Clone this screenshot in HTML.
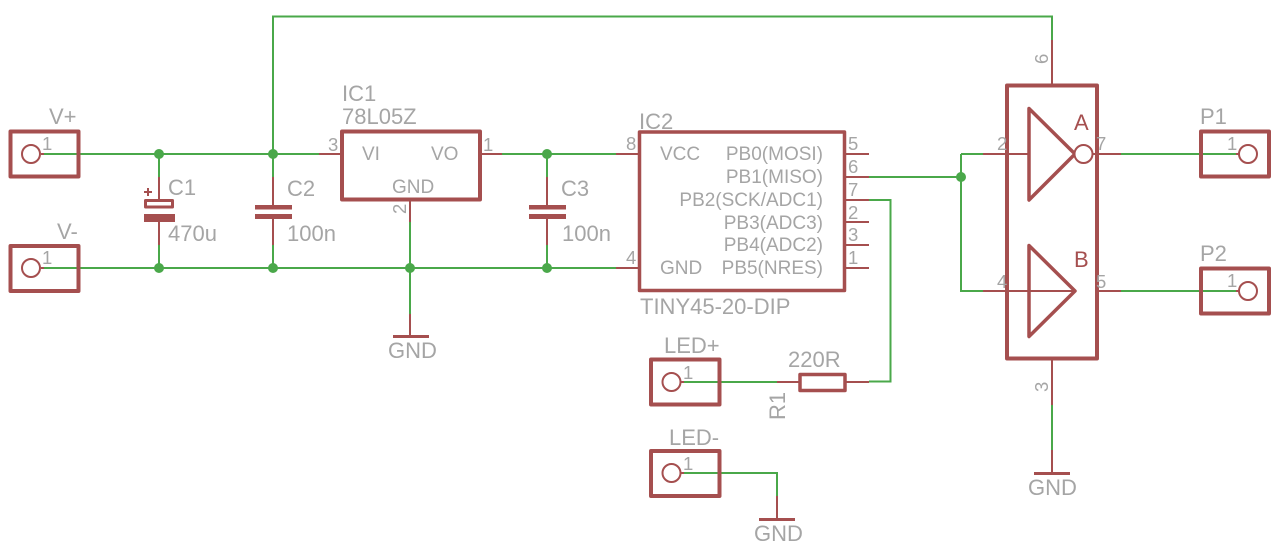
<!DOCTYPE html>
<html>
<head>
<meta charset="utf-8">
<style>
html,body{margin:0;padding:0;background:#fff;}
svg{display:block;}
text{font-family:"Liberation Sans",sans-serif;fill:#a5a5a5;}
.l{font-size:22px;}
.n{font-size:19px;}
.p{font-size:18.5px;}
.g{stroke:#4aa84a;stroke-width:2;fill:none;}
.r{stroke:#a54f4f;stroke-width:2;fill:none;}
.b{stroke:#a54f4f;stroke-width:4;fill:none;stroke-linejoin:round;}
.t{stroke:#a54f4f;stroke-width:2;fill:#fff;}
.j{fill:#4aa84a;}
.f{fill:#a54f4f;}
</style>
</head>
<body>
<svg width="1280" height="549" viewBox="0 0 1280 549" xmlns="http://www.w3.org/2000/svg">
<rect width="1280" height="549" fill="#fff"/>

<!-- green nets -->
<path class="g" d="M41 154H319M273 154V16.500H1052V40"/>
<path class="g" d="M41 268H616"/>
<path class="g" d="M159 154V177M159 245V268M273 154V177M273 245V268"/>
<path class="g" d="M502 154H616M547 154V177M547 245V268"/>
<path class="g" d="M410 222V314"/>
<path class="g" d="M869 177H961M961 154H983M961 154V291H983"/>
<path class="g" d="M869 200H890.500V381.500H869"/>
<path class="g" d="M682 382H777"/>
<path class="g" d="M682 473H777V496"/>
<path class="g" d="M1121 154H1238M1121 291H1238"/>
<path class="g" d="M1052 405V450"/>

<!-- red pins -->
<path class="r" d="M319 154H341M480 154H502M616 154H640M616 268H640"/>
<path class="r" d="M410 200V222M410 314V336"/>
<path class="r" d="M159 177V199M159 222V245M273 177V205M273 219V245M547 177V205M547 219V245"/>
<path class="r" d="M845 154H869M845 177H869M845 200H869M845 222H869M845 245H869M845 268H869"/>
<path class="r" d="M777 382H799M846 382H869M777 496V519"/>
<path class="r" d="M1052 40V85M1052 359V405M1052 450V473"/>
<path class="r" d="M983 154H1029M983 291H1075M1092 154H1121M1098 291H1121"/>

<!-- connectors -->
<rect class="b" x="10.500" y="131.500" width="68" height="45"/>
<rect class="b" x="10.500" y="246" width="68" height="45"/>
<rect class="b" x="651" y="359.500" width="68.500" height="45"/>
<rect class="b" x="651" y="451" width="68.500" height="45"/>
<rect class="b" x="1201" y="131.500" width="68" height="45"/>
<rect class="b" x="1201" y="268.500" width="68" height="45"/>
<circle class="t" cx="31" cy="154" r="9"/>
<circle class="t" cx="31" cy="268" r="9"/>
<circle class="t" cx="671.500" cy="382" r="9"/>
<circle class="t" cx="671.500" cy="473" r="9"/>
<circle class="t" cx="1248" cy="154" r="9"/>
<circle class="t" cx="1248" cy="291" r="9"/>
<path class="r" d="M41 154H44M41 268H44M680 382H684M680 473H684M1236 154H1239M1236 291H1239"/>

<!-- capacitors -->
<rect class="b" x="145.500" y="200.500" width="27" height="6.500" style="stroke-width:3"/>
<rect class="f" x="144" y="214" width="31" height="8"/>
<path class="r" d="M144 192H152M148 188V196"/>
<rect class="f" x="255" y="205" width="37" height="4.500"/>
<rect class="f" x="255" y="214" width="37" height="5"/>
<rect class="f" x="529" y="205" width="37" height="4.500"/>
<rect class="f" x="529" y="214" width="37" height="5"/>

<!-- ICs -->
<rect class="b" x="342" y="131.500" width="138" height="68"/>
<rect class="b" x="639.500" y="132" width="205" height="158.500" style="stroke-width:3.500"/>
<rect class="b" x="1007" y="85.500" width="90" height="273"/>
<path class="b" style="stroke-width:3.500" d="M1029 108.500L1075 154L1029 200Z"/>
<circle class="t" cx="1083.500" cy="154" r="9"/>
<path class="b" style="stroke-width:3.500" d="M1029 245.500L1075 291L1029 336.500Z"/>

<!-- resistor -->
<rect class="b" x="800" y="374.500" width="45" height="16" style="stroke-width:3.500"/>

<!-- ground bars -->
<path class="b" style="stroke-width:3" d="M393 336.500H429M759 519.500H795M1034 473.500H1070"/>

<!-- junctions -->
<g class="j">
<circle cx="159" cy="154" r="5"/>
<circle cx="159" cy="268" r="5"/>
<circle cx="273" cy="154" r="5"/>
<circle cx="273" cy="268" r="5"/>
<circle cx="410" cy="268" r="5"/>
<circle cx="547" cy="154" r="5"/>
<circle cx="547" cy="268" r="5"/>
<circle cx="961" cy="177" r="5"/>
</g>

<!-- labels -->
<text class="l" x="49" y="124">V+</text>
<text class="l" x="57" y="239">V-</text>
<text class="p" x="42" y="150">1</text>
<text class="p" x="42" y="264">1</text>
<text class="l" x="168" y="195">C1</text>
<text class="l" x="168" y="241">470u</text>
<text class="l" x="287" y="196">C2</text>
<text class="l" x="287" y="241">100n</text>
<text class="l" x="342" y="101">IC1</text>
<text class="l" x="342" y="124">78L05Z</text>
<text class="p" x="328" y="151">3</text>
<text class="p" x="483" y="151">1</text>
<text class="n" x="362" y="160">VI</text>
<text class="n" x="431" y="160">VO</text>
<text class="n" x="392" y="193">GND</text>
<text class="p" transform="translate(406,214) rotate(-90)">2</text>
<text class="l" x="388" y="358">GND</text>
<text class="l" x="561" y="196">C3</text>
<text class="l" x="562" y="241">100n</text>
<text class="l" x="639" y="129">IC2</text>
<text class="p" x="626" y="150">8</text>
<text class="p" x="626" y="264">4</text>
<text class="n" x="660" y="160">VCC</text>
<text class="n" x="660" y="274">GND</text>
<g text-anchor="end">
<text class="n" x="823" y="160">PB0(MOSI)</text>
<text class="n" x="823" y="183">PB1(MISO)</text>
<text class="n" x="823" y="206">PB2(SCK/ADC1)</text>
<text class="n" x="823" y="229">PB3(ADC3)</text>
<text class="n" x="823" y="251">PB4(ADC2)</text>
<text class="n" x="823" y="274">PB5(NRES)</text>
</g>
<text class="p" x="848" y="150">5</text>
<text class="p" x="848" y="173">6</text>
<text class="p" x="848" y="196">7</text>
<text class="p" x="848" y="219">2</text>
<text class="p" x="848" y="241">3</text>
<text class="p" x="848" y="264">1</text>
<text class="l" x="640" y="314">TINY45-20-DIP</text>
<text class="l" x="664" y="353">LED+</text>
<text class="p" x="683" y="379">1</text>
<text class="l" x="669" y="445">LED-</text>
<text class="p" x="683" y="470">1</text>
<text class="l" x="788" y="367">220R</text>
<text class="l" transform="translate(785,420) rotate(-90)">R1</text>
<text class="l" x="754" y="541">GND</text>
<text class="l" x="1028" y="495">GND</text>
<text class="p" transform="translate(1048,64) rotate(-90)">6</text>
<text class="p" transform="translate(1048,392) rotate(-90)">3</text>
<text class="p" x="997" y="150">2</text>
<text class="p" x="997" y="288">4</text>
<text class="p" x="1096" y="150">7</text>
<text class="p" x="1096" y="288">5</text>
<text class="l" x="1074" y="130" style="fill:#a54f4f">A</text>
<text class="l" x="1074" y="267" style="fill:#a54f4f">B</text>
<text class="l" x="1200" y="124">P1</text>
<text class="l" x="1200" y="261">P2</text>
<text class="p" x="1227" y="150">1</text>
<text class="p" x="1227" y="287">1</text>
</svg>
</body>
</html>
